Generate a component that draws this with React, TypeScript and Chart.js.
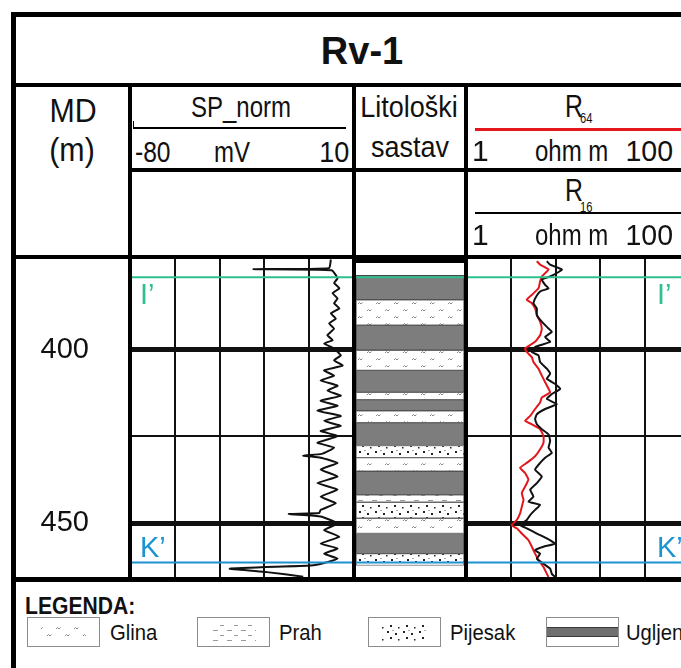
import React, { useEffect, useRef } from "react";
import { Chart, registerables } from "chart.js";
Chart.register(...registerables);

// ---------------- DATA ----------------
const DEPTH_MIN = 373.4;
const DEPTH_MAX = 465.4;
const DEPTH_GRID = [400, 425, 450];
const DEPTH_LABELS = [400, 450];

const SP_MIN = -80;
const SP_MAX = 10;
const SP_GRID = [-80, -62, -44, -26, -8, 10];
const SP_DEPTH = [
  374.1, 376.6, 376.9, 377.2, 379.5, 380.9, 382.4, 383.8, 385.3, 386.7, 388.2, 389.6, 391.1, 392.5,
  394.0, 395.9, 397.3, 398.3, 399.7, 401.7, 403.1, 404.6, 406.0, 407.5, 408.9, 410.4, 411.8, 413.3,
  414.7, 416.2, 417.6, 419.1, 420.5, 422.0, 423.4, 424.9, 426.8, 428.2, 430.0, 430.5, 431.1, 432.6,
  434.5, 436.5, 438.4, 440.3, 442.3, 444.2, 446.1, 447.0, 447.3, 448.0, 450.0, 451.9, 453.8, 455.8,
  457.2, 458.7, 460.1, 461.4, 462.1, 463.0, 464.0, 465.3,
];
const SP_VALUES = [
  0.7, 0.0, -30.4, 1.0, 3.4, 2.0, 4.1, 1.4, 3.4, 2.0, 4.1, 0.7, 2.7, 0.0,
  2.0, -0.7, 1.4, -2.0, 2.0, 4.7, 2.0, 5.4, -2.0, 2.0, -3.4, 3.4, -0.7, 4.7,
  -3.4, 3.4, -4.7, 4.7, -2.0, 4.7, -3.4, 3.4, -4.7, 2.0, -3.0, -10.4, -3.4, 3.4,
  -3.4, 3.4, -4.7, 3.4, -3.4, 2.7, -3.4, -4.0, -16.2, -3.4, 3.4, -2.0, 4.1, -3.4,
  3.4, -2.0, 3.4, -2.0, -7.4, -39.9, -25.0, -10.4,
];

const RES_MIN = 1;
const RES_MAX = 100;
const RES_GRID = [1, 2.512, 6.31, 15.85, 39.81, 100];
const R64_DEPTH = [
  374.6, 375.6, 377.0, 379.0, 380.4, 382.4, 384.3, 385.7, 386.7, 388.2, 390.1, 392.0, 394.0, 395.9,
  397.8, 399.7, 400.7, 402.2, 403.6, 405.5, 407.5, 409.4, 411.3, 412.3, 413.8, 415.2, 417.1, 419.1,
  420.5, 421.5, 422.9, 424.9, 426.8, 428.7, 430.7, 432.6, 434.0, 435.5, 437.4, 439.4, 441.3, 443.2,
  445.2, 447.1, 449.0, 450.5, 451.4, 452.9, 454.8, 456.7, 458.7, 460.6, 462.5, 464.5, 465.4,
];
const R64_VALUES = [
  4.29, 4.59, 5.46, 4.75, 4.59, 4.44, 3.87, 3.49, 3.87, 4.14, 4.29, 4.59, 4.75, 4.59,
  4.14, 3.37, 3.49, 3.87, 4.0, 4.44, 4.75, 5.09, 5.46, 5.64, 4.75, 4.59, 4.14, 3.74,
  3.37, 3.87, 4.59, 4.92, 4.92, 4.59, 4.14, 3.49, 3.04, 3.37, 3.61, 3.37, 3.15, 3.26,
  3.15, 3.04, 2.84, 2.56, 2.84, 3.15, 3.61, 3.87, 4.14, 4.44, 4.92, 5.27, 5.46,
];
const R16_DEPTH = [
  374.6, 375.6, 377.0, 378.0, 379.0, 379.9, 381.4, 382.4, 383.3, 385.3, 386.7, 388.2, 390.1, 392.0,
  393.5, 394.9, 396.4, 397.8, 399.3, 400.7, 401.7, 403.6, 405.5, 407.0, 408.4, 409.9, 411.3, 412.8,
  414.2, 415.7, 417.1, 418.6, 420.0, 421.5, 422.9, 424.4, 426.3, 428.2, 429.7, 431.1, 432.6, 434.5,
  436.5, 438.4, 440.3, 442.3, 443.7, 444.7, 446.1, 447.6, 449.0, 450.5, 451.4, 452.9, 454.3, 455.8,
  456.7, 457.7, 458.7, 460.1, 461.6, 463.0, 464.5, 465.4,
];
const R16_VALUES = [
  5.27, 5.64, 7.18, 6.48, 5.64, 4.75, 5.09, 5.46, 4.59, 4.14, 4.0, 4.29, 4.29, 4.75,
  5.27, 5.84, 5.09, 5.64, 4.14, 3.87, 4.44, 4.59, 5.27, 5.64, 5.27, 6.26, 6.94, 5.84,
  5.27, 6.48, 5.09, 4.29, 4.14, 4.29, 4.75, 5.46, 5.64, 5.46, 5.84, 5.09, 4.59, 4.14,
  4.75, 4.29, 3.74, 4.0, 3.61, 4.59, 4.14, 3.74, 3.49, 3.04, 3.49, 4.29, 5.27, 6.26,
  4.92, 4.14, 4.59, 4.29, 4.92, 5.64, 5.84, 6.26,
];

const MARKER_NAMES = ["I’", "K’"];
const MARKER_DEPTHS = [379.2, 461.2];
const MARKER_COLORS = ["#2dbf8e", "#1b93d1"];

const LITHO_NAMES = ["Glina", "Prah", "Pijesak", "Ugljen"];
const GLINA_LAYERS = [[385.7, 393.0], [400.2, 406.0], [412.3, 414.4], [417.6, 421.0], [431.1, 435.0], [448.5, 452.9]];
const PRAH_LAYERS = [[441.8, 443.9]];
const PIJESAK_LAYERS = [[427.6, 431.1], [443.9, 448.5], [458.7, 462.1]];
const UGLJEN_LAYERS = [[378.7, 385.7], [393.0, 400.2], [406.0, 412.3], [414.4, 417.6], [421.0, 427.6], [435.0, 441.8], [452.9, 458.7]];
const LITHO_LAYERS = [GLINA_LAYERS, PRAH_LAYERS, PIJESAK_LAYERS, UGLJEN_LAYERS];

// ---------------- STYLE ----------------
const FONT = '"Liberation Sans", Arial, Helvetica, sans-serif';
const PAGE_W = 681;
const PAGE_H = 668;

function makeTile(w: number, h: number, draw: (c: CanvasRenderingContext2D) => void) {
  const cv = document.createElement("canvas");
  cv.width = w;
  cv.height = h;
  const c = cv.getContext("2d")!;
  c.fillStyle = "#ffffff";
  c.fillRect(0, 0, w, h);
  draw(c);
  return cv;
}

function makeFills(ctx: CanvasRenderingContext2D): (string | CanvasPattern)[] {
  const glina = makeTile(18, 14, (c) => {
    c.strokeStyle = "#8a8a8a";
    c.lineWidth = 1;
    c.beginPath();
    c.moveTo(2, 5); c.lineTo(3.5, 3.5); c.lineTo(5, 5); c.lineTo(6.5, 3.5);
    c.moveTo(11, 12); c.lineTo(12.5, 10.5); c.lineTo(14, 12); c.lineTo(15.5, 10.5);
    c.stroke();
  });
  const prah = makeTile(14, 10, (c) => {
    c.strokeStyle = "#999999";
    c.lineWidth = 1;
    c.beginPath();
    c.moveTo(2, 3.5); c.lineTo(7, 3.5);
    c.moveTo(9, 8.5); c.lineTo(13, 8.5);
    c.stroke();
  });
  const pijesak = makeTile(16, 12, (c) => {
    c.fillStyle = "#222222";
    c.fillRect(3, 2, 2, 2);
    c.fillRect(11, 4, 2, 2);
    c.fillRect(6, 8, 2, 2);
    c.fillRect(14, 10, 1.5, 1.5);
    c.strokeStyle = "#aaaaaa";
    c.beginPath();
    c.moveTo(8, 1.5); c.lineTo(10, 1.5);
    c.stroke();
  });
  return [
    ctx.createPattern(glina, "repeat")!,
    ctx.createPattern(prah, "repeat")!,
    ctx.createPattern(pijesak, "repeat")!,
    "#7d7d7d",
  ];
}

function markerPlugin(labelSide: "left" | "right" | null) {
  return {
    id: "markers",
    afterDatasetsDraw(chart: any) {
      const { ctx, chartArea, scales } = chart;
      ctx.save();
      MARKER_DEPTHS.forEach((d, i) => {
        const py = scales.y.getPixelForValue(d);
        ctx.strokeStyle = MARKER_COLORS[i];
        ctx.lineWidth = 2;
        ctx.beginPath();
        ctx.moveTo(chartArea.left, py);
        ctx.lineTo(chartArea.right, py);
        ctx.stroke();
        if (labelSide) {
          const size = 29;
          ctx.font = `${size}px ${FONT}`;
          ctx.fillStyle = MARKER_COLORS[i];
          ctx.textAlign = "left";
          ctx.textBaseline = "alphabetic";
          const below = py < (chartArea.top + chartArea.bottom) / 2;
          const by = below ? py + 6 + size * 0.716 : py - 5;
          const bx = labelSide === "left" ? chartArea.left + 10 : chartArea.right - 33;
          ctx.fillText(MARKER_NAMES[i], bx, by);
        }
      });
      ctx.restore();
    },
  };
}

const depthAxisBase = {
  type: "linear" as const,
  reverse: true,
  min: DEPTH_MIN,
  max: DEPTH_MAX,
  position: "left" as const,
  afterBuildTicks: (s: any) => {
    s.ticks = DEPTH_GRID.map((v) => ({ value: v }));
  },
  grid: {
    color: "#111111",
    drawTicks: false,
    lineWidth: (c: any) => (c.tick && DEPTH_LABELS.includes(c.tick.value) ? 5 : 2),
  },
  border: { display: false },
};

function Txt(props: { x: number; y: number; size?: number; sx?: number; align?: "left" | "right" | "center"; bold?: boolean; color?: string; children: any }) {
  const size = props.size ?? 30;
  const sx = props.sx ?? 1;
  const style: any = {
    position: "absolute",
    top: props.y - 0.8465 * size,
    fontSize: size,
    lineHeight: `${size}px`,
    fontFamily: FONT,
    fontWeight: props.bold ? 700 : 400,
    color: props.color ?? "#111",
    whiteSpace: "nowrap",
  };
  const align = props.align ?? "left";
  if (align === "left") {
    style.left = props.x;
    style.transformOrigin = "left center";
    style.transform = `scaleX(${sx})`;
  } else if (align === "right") {
    style.right = PAGE_W - props.x;
    style.transformOrigin = "right center";
    style.transform = `scaleX(${sx})`;
  } else {
    style.left = props.x;
    style.transform = `translateX(-50%) scaleX(${sx})`;
  }
  return <div style={style}>{props.children}</div>;
}

function Line(p: { l: number; t: number; w: number; h: number; c?: string }) {
  return <div style={{ position: "absolute", left: p.l, top: p.t, width: p.w, height: p.h, background: p.c ?? "#000" }} />;
}

export default function App() {
  const spRef = useRef<HTMLCanvasElement>(null);
  const litRef = useRef<HTMLCanvasElement>(null);
  const resRef = useRef<HTMLCanvasElement>(null);
  const legRefs = [useRef<HTMLCanvasElement>(null), useRef<HTMLCanvasElement>(null), useRef<HTMLCanvasElement>(null), useRef<HTMLCanvasElement>(null)];

  useEffect(() => {
    const charts: Chart[] = [];
    const common = {
      responsive: false,
      animation: false as const,
      devicePixelRatio: 1,
      layout: { padding: 0 },
      plugins: { legend: { display: false }, tooltip: { enabled: false } },
      events: [] as any[],
    };

    // SP track (with depth labels in MD column)
    charts.push(
      new Chart(spRef.current!, {
        type: "line",
        data: {
          datasets: [
            {
              data: SP_DEPTH.map((d, i) => ({ x: SP_VALUES[i], y: d })),
              borderColor: "#111111",
              borderWidth: 2,
              pointRadius: 0,
              tension: 0.12,
              fill: false,
            },
          ],
        },
        options: {
          ...common,
          indexAxis: "y",
          scales: {
            x: {
              type: "linear",
              min: SP_MIN,
              max: SP_MAX,
              position: "bottom",
              afterBuildTicks: (s: any) => {
                s.ticks = SP_GRID.map((v) => ({ value: v }));
              },
              ticks: { display: false },
              grid: { color: "#111111", lineWidth: 2, drawTicks: false },
              border: { display: false },
            },
            y: {
              ...depthAxisBase,
              afterFit: (s: any) => {
                s.width = 114;
                s.paddingTop = 0;
                s.paddingBottom = 0;
              },
              ticks: {
                display: true,
                autoSkip: false,
                crossAlign: "center",
                padding: 41,
                color: "#111111",
                font: { family: FONT, size: 29 },
                callback: (v: any) => (DEPTH_LABELS.includes(v) ? String(v) : ""),
              },
            },
          },
        } as any,
        plugins: [markerPlugin("left")],
      })
    );

    // Lithology column
    const fills = makeFills(litRef.current!.getContext("2d")!);
    charts.push(
      new Chart(litRef.current!, {
        type: "bar",
        data: {
          labels: ["Litološki sastav"],
          datasets: LITHO_LAYERS.map((layers, k) => ({
            label: LITHO_NAMES[k],
            data: layers.map(([a, b]) => ({ x: "Litološki sastav", y: [a, b] })),
            backgroundColor: fills[k],
            borderColor: k === 3 ? "#4a4a4a" : "#6a6a6a",
            borderWidth: 1,
            borderSkipped: false,
            grouped: false,
            barPercentage: 1,
            categoryPercentage: 1,
          })),
        },
        options: {
          ...common,
          scales: {
            x: { display: false },
            y: { type: "linear", reverse: true, min: DEPTH_MIN, max: DEPTH_MAX, display: false },
          },
        } as any,
        plugins: [markerPlugin(null)],
      })
    );

    // Resistivity track
    charts.push(
      new Chart(resRef.current!, {
        type: "line",
        data: {
          datasets: [
            {
              label: "R16",
              data: R16_DEPTH.map((d, i) => ({ x: R16_VALUES[i], y: d })),
              borderColor: "#111111",
              borderWidth: 2,
              pointRadius: 0,
              tension: 0.12,
            },
            {
              label: "R64",
              data: R64_DEPTH.map((d, i) => ({ x: R64_VALUES[i], y: d })),
              borderColor: "#e3161c",
              borderWidth: 2,
              pointRadius: 0,
              tension: 0.12,
            },
          ],
        },
        options: {
          ...common,
          indexAxis: "y",
          scales: {
            x: {
              type: "logarithmic",
              min: RES_MIN,
              max: RES_MAX,
              position: "bottom",
              afterBuildTicks: (s: any) => {
                s.ticks = RES_GRID.map((v) => ({ value: v }));
              },
              ticks: { display: false },
              grid: { color: "#111111", lineWidth: 2, drawTicks: false },
              border: { display: false },
            },
            y: {
              ...depthAxisBase,
              afterFit: (s: any) => {
                s.width = 0;
                s.paddingTop = 0;
                s.paddingBottom = 0;
              },
              ticks: { display: false },
            },
          },
        } as any,
        plugins: [markerPlugin("right")],
      })
    );

    // Legend swatches
    legRefs.forEach((r, k) => {
      const cv = r.current!;
      const c = cv.getContext("2d")!;
      const f = makeFills(c);
      c.fillStyle = "#fff";
      c.fillRect(0, 0, cv.width, cv.height);
      if (k === 3) {
        c.fillStyle = "#6f6f6f";
        c.fillRect(1, 11, cv.width - 2, 8);
        c.fillStyle = "#3a3a3a";
        c.fillRect(1, 10, cv.width - 2, 1);
        c.fillRect(1, 19, cv.width - 2, 1);
      } else {
        c.fillStyle = f[k];
        c.fillRect(14, 6, cv.width - 28, cv.height - 12);
      }
      c.strokeStyle = "#8c8c8c";
      c.lineWidth = 1;
      c.strokeRect(0.5, 0.5, cv.width - 1, cv.height - 1);
    });

    return () => charts.forEach((ch) => ch.destroy());
  }, []);

  const legX = [27, 197, 368, 546];
  const legTextX = [110, 279, 450, 626];

  return (
    <div style={{ position: "absolute", left: 0, top: 0, width: PAGE_W, height: PAGE_H, overflow: "hidden", background: "#fff" }}>
      <canvas ref={spRef} width={338} height={320} style={{ position: "absolute", left: 16, top: 257, width: 338, height: 320 }} />
      <canvas ref={litRef} width={108} height={320} style={{ position: "absolute", left: 356, top: 257, width: 108, height: 320 }} />
      <canvas ref={resRef} width={224} height={320} style={{ position: "absolute", left: 466, top: 257, width: 224, height: 320 }} />

      {/* frame */}
      <Line l={11} t={12} w={670} h={5} />
      <Line l={11} t={12} w={5} h={656} />
      <Line l={11} t={83} w={670} h={4} />
      <Line l={130} t={168} w={551} h={4} />
      <Line l={11} t={255} w={670} h={4} />
      <Line l={354} t={255} w={111} h={8} />
      <Line l={11} t={577} w={670} h={5} />
      <Line l={128} t={85} w={4} h={495} />
      <Line l={352} t={85} w={4} h={495} />
      <Line l={464} t={85} w={4} h={495} />

      {/* header */}
      <Txt x={362} y={64} size={38} bold align="center">Rv-1</Txt>
      <Txt x={73} y={122} size={33} sx={0.92} align="center">MD</Txt>
      <Txt x={72} y={161} size={33} sx={0.92} align="center">(m)</Txt>

      <Txt x={241} y={117} sx={0.8} align="center">SP_norm</Txt>
      <Line l={133} t={127} w={213} h={2} />
      <Line l={133} t={121} w={1} h={8} />
      <Txt x={135} y={162} sx={0.82}>-80</Txt>
      <Txt x={232} y={162} sx={0.8} align="center">mV</Txt>
      <Txt x={349} y={162} sx={0.9} align="right">10</Txt>

      <Txt x={409} y={117} sx={0.9} align="center">Litološki</Txt>
      <Txt x={410} y={157} sx={0.9} align="center">sastav</Txt>

      <Txt x={565} y={117} size={31} sx={0.8}>R</Txt>
      <Txt x={580} y={123} size={14} sx={0.8}>64</Txt>
      <Line l={475} t={128} w={206} h={3} c="#e3161c" />
      <Txt x={472} y={161}>1</Txt>
      <Txt x={535} y={161} sx={0.8}>ohm m</Txt>
      <Txt x={673} y={161} sx={0.95} align="right">100</Txt>

      <Txt x={565} y={201} size={31} sx={0.8}>R</Txt>
      <Txt x={580} y={212} size={14} sx={0.8}>16</Txt>
      <Line l={475} t={212} w={206} h={2} />
      <Txt x={472} y={245}>1</Txt>
      <Txt x={535} y={245} sx={0.8}>ohm m</Txt>
      <Txt x={673} y={245} sx={0.95} align="right">100</Txt>

      {/* legend */}
      <Txt x={25} y={614} size={24} sx={0.88} bold>LEGENDA:</Txt>
      {LITHO_NAMES.map((n, k) => (
        <React.Fragment key={n}>
          <canvas ref={legRefs[k]} width={73} height={30} style={{ position: "absolute", left: legX[k], top: 617, width: 73, height: 30 }} />
          <Txt x={legTextX[k]} y={641} size={22} sx={0.92}>{n}</Txt>
        </React.Fragment>
      ))}
    </div>
  );
}
